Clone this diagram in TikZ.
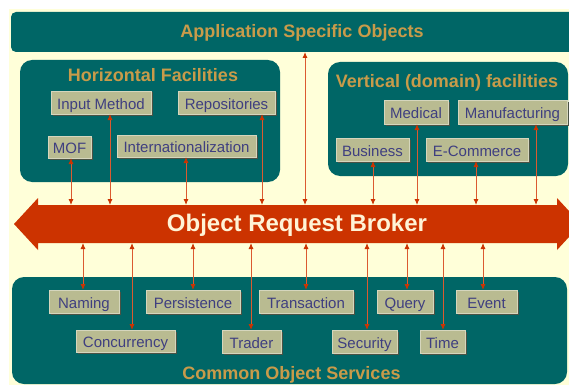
\documentclass[tikz,border=0pt]{standalone}
\usepackage{fontspec}
\setmainfont{Liberation Sans}
\usetikzlibrary{shadows,arrows.meta}
\definecolor{bgyel}{HTML}{FFFFD9}
\definecolor{tealbox}{HTML}{006666}
\definecolor{goldtxt}{HTML}{C89B4A}
\definecolor{khaki}{HTML}{B9BB91}
\definecolor{navytxt}{HTML}{3F3F80}
\definecolor{orbred}{HTML}{CC3300}
\definecolor{arrline}{HTML}{DB5A30}
\definecolor{shade}{HTML}{4A5244}
\definecolor{orbtxt}{HTML}{FFF3D6}
\begin{document}
\begin{tikzpicture}[x=1pt,y=-1pt,
  panel/.style={fill=tealbox, draw=none, inner sep=0pt, outer sep=0pt, rounded corners=#1},
  panel/.default=10pt,
  title/.style={text=goldtxt, font=\fontsize{18}{20}\selectfont\bfseries, inner sep=0pt, anchor=base},
  svc/.style={fill=khaki, draw=khaki!60!white, line width=0.5pt, text=navytxt,
    font=\fontsize{15}{17}\selectfont, inner sep=0pt, outer sep=0pt,
    text height=14pt, text depth=1pt,
    general shadow={fill=shade, shadow xshift=1.5pt, shadow yshift=-1.5pt}},
  link/.style={draw=arrline, line width=0.9pt,
    {Latex[length=6pt,width=5pt,color=orbred]}-{Latex[length=6pt,width=5pt,color=orbred]}}
]
\useasboundingbox (0,0) rectangle (569,385);
\clip (0,0) rectangle (569,385);
\fill[white] (0,0) rectangle (569,385);
\fill[bgyel] (9,9) rectangle (569,385);

% big panels
\node[panel=5pt, minimum width=575pt, minimum height=40pt] (aso) at (298.5,32) {};
\node[panel=12pt, minimum width=260pt, minimum height=122pt] (hf) at (150,121) {};
\node[panel=12pt, minimum width=240pt, minimum height=114pt] (vf) at (448,119) {};
\node[panel=12pt, minimum width=555pt, minimum height=107pt] (cos) at (289.5,330.5) {};

% titles (placed on their baselines)
\node[title] (asot) at (302,37.5) {Application Specific Objects};
\node[title] (hft) at (153,82) {Horizontal Facilities};
\node[title] (vft) at (447,88) {Vertical (domain) facilities};
\node[title] (cost) at (291.5,379) {Common Object Services};

% ORB arrow
\fill[orbred] (14,224) -- (38,198) -- (38,205) -- (557,205) -- (557,198) -- (581,224)
  -- (557,250) -- (557,243) -- (38,243) -- (38,250) -- cycle;
\node[minimum width=519pt, minimum height=38pt, inner sep=0pt, outer sep=0pt] (orb) at (297.5,224) {};
\node[text=orbtxt, font=\fontsize{24}{26}\selectfont\bfseries, inner sep=0pt, anchor=base] (orbt) at (297,231) {Object Request Broker};

% horizontal facilities
\node[svc, minimum width=100pt, minimum height=23pt] (inm) at (101,102.5) {Input Method};
\node[svc, minimum width=97pt, minimum height=23pt] (rep) at (226.5,102.5) {Repositories};
\node[svc, minimum width=43pt, minimum height=22pt] (mof) at (69.5,147) {MOF};
\node[svc, minimum width=139pt, minimum height=22pt] (intl) at (186.5,146) {Internationalization};

% vertical facilities
\node[svc, minimum width=64pt, minimum height=24pt] (med) at (416,112) {Medical};
\node[svc, minimum width=109pt, minimum height=24pt] (man) at (512.5,112) {Manufacturing};
\node[svc, minimum width=73pt, minimum height=23pt] (bus) at (372.5,149.5) {Business};
\node[svc, minimum width=102pt, minimum height=23pt] (ecom) at (477,149.5) {E-Commerce};

% common object services
\node[svc, minimum width=70pt, minimum height=23pt] (nam) at (84,301.5) {Naming};
\node[svc, minimum width=94pt, minimum height=23pt] (per) at (193,301.5) {Persistence};
\node[svc, minimum width=94pt, minimum height=23pt] (tra) at (306,301.5) {Transaction};
\node[svc, minimum width=56pt, minimum height=23pt] (que) at (405,301.5) {Query};
\node[svc, minimum width=61pt, minimum height=23pt] (eve) at (486.5,301.5) {Event};
\node[svc, minimum width=99pt, minimum height=22pt] (con) at (125.5,341) {Concurrency};
\node[svc, minimum width=59pt, minimum height=23pt] (trd) at (251.5,341.5) {Trader};
\node[svc, minimum width=65pt, minimum height=23pt] (sec) at (364.5,341.5) {Security};
\node[svc, minimum width=45pt, minimum height=23pt] (tim) at (442.5,341.5) {Time};

% connector x positions
\coordinate (xmof) at (71,0);
\coordinate (xinm) at (110,0);
\coordinate (xintl) at (186,0);
\coordinate (xrep) at (262,0);
\coordinate (xaso) at (305,0);
\coordinate (xbus) at (373,0);
\coordinate (xmed) at (417,0);
\coordinate (xecom) at (476,0);
\coordinate (xman) at (536,0);
\coordinate (xnam) at (83,0);
\coordinate (xcon) at (132,0);
\coordinate (xper) at (193,0);
\coordinate (xtrd) at (251,0);
\coordinate (xtra) at (306,0);
\coordinate (xsec) at (367,0);
\coordinate (xque) at (407,0);
\coordinate (xtim) at (443,0);
\coordinate (xeve) at (483,0);

% upper connectors
\draw[link] (xmof |- mof.south) -- (xmof |- orb.north);
\draw[link] (xinm |- inm.south) -- (xinm |- orb.north);
\draw[link] (xintl |- intl.south) -- (xintl |- orb.north);
\draw[link] (xrep |- rep.south) -- (xrep |- orb.north);
\draw[link] (xaso |- aso.south) -- (xaso |- orb.north);
\draw[link] (xbus |- bus.south) -- (xbus |- orb.north);
\draw[link] (xmed |- med.south) -- (xmed |- orb.north);
\draw[link] (xecom |- ecom.south) -- (xecom |- orb.north);
\draw[link] (xman |- man.south) -- (xman |- orb.north);

% lower connectors
\draw[link] (xnam |- orb.south) -- (xnam |- nam.north);
\draw[link] (xcon |- orb.south) -- (xcon |- con.north);
\draw[link] (xper |- orb.south) -- (xper |- per.north);
\draw[link] (xtrd |- orb.south) -- (xtrd |- trd.north);
\draw[link] (xtra |- orb.south) -- (xtra |- tra.north);
\draw[link] (xsec |- orb.south) -- (xsec |- sec.north);
\draw[link] (xque |- orb.south) -- (xque |- que.north);
\draw[link] (xtim |- orb.south) -- (xtim |- tim.north);
\draw[link] (xeve |- orb.south) -- (xeve |- eve.north);
\end{tikzpicture}
\end{document}
